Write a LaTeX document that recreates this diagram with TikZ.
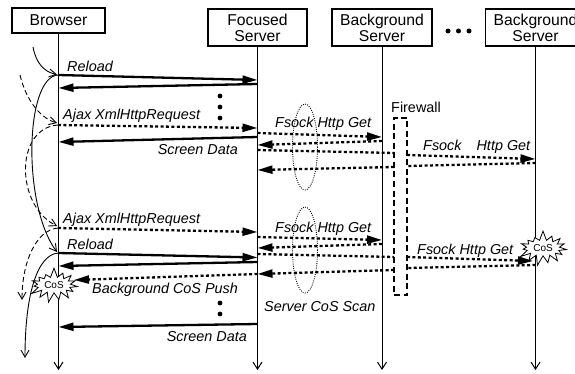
\documentclass[tikz,border=0pt]{standalone}
\usepackage{fontspec}
\setmainfont{Liberation Sans}
\usetikzlibrary{arrows.meta,shapes.symbols}

\newcommand\headfont{\fontsize{15.7}{16}\selectfont}
\newcommand\lblfont{\fontsize{14.4}{16}\selectfont\itshape}

\begin{document}
\begin{tikzpicture}[x=1pt,y=-1pt,
  head/.style={draw, line width=1.4pt, align=center, font=\headfont, inner sep=0pt},
  life/.style={line width=1pt, -{Straight Barb[length=7pt,width=9pt]}},
  msg/.style={line width=2.3pt, -{Triangle[length=15pt,width=8pt]}},
  dotline/.style={line width=2.3pt, dash pattern=on 3pt off 2.4pt},
  dmsg/.style={msg, dotline},
  lbl/.style={font=\lblfont, inner sep=0pt, anchor=base west},
  lble/.style={lbl, anchor=base east},
  flow/.style={line width=0.9pt, -{Straight Barb[length=7pt,width=8pt]}},
  dflow/.style={flow, dash pattern=on 5pt off 3pt},
  scan/.style={line width=0.9pt, dash pattern=on 0.9pt off 1.3pt},
  wall/.style={draw, line width=1.5pt, dash pattern=on 6pt off 3.5pt, inner sep=0pt},
  burst/.style={starburst, draw, fill=white, line width=0.8pt, starburst points=15,
    starburst point height=10pt, random starburst=7, inner sep=2pt,
    minimum width=42pt, minimum height=28pt,
    font=\fontsize{10}{10}\selectfont},
]
\clip (0,0) rectangle (575,374);

% participants
\node[head, minimum width=93, minimum height=25] (br) at (58.5,20.5) {Browser};
\node[head, minimum width=99, minimum height=37] (fs) at (257.5,27.5) {Focused\\Server};
\node[head, minimum width=100, minimum height=37] (bg1) at (382,27.5) {Background\\Server};
\node[head, minimum width=100, minimum height=37] (bg2) at (535.5,27.5) {Background\\Server};
\fill (448,31) circle (2.5) (458.5,31) circle (2.5) (469,31) circle (2.5);

% lifeline ends
\coordinate (brE) at (58.5,370);
\coordinate (fsE) at (257.5,370);
\coordinate (bg1E) at (382,370);
\coordinate (bg2E) at (535.5,370);
\draw[life] (br.south) -- (brE);
\draw[life] (fs.south) -- (fsE);
\draw[life] (bg1.south) -- (bg1E);
\draw[life] (bg2.south) -- (bg2E);

% firewall and scan regions
\node[wall, minimum width=13, minimum height=177] (fw) at (400.5,206.5) {};
\node[anchor=base west, inner sep=0pt, font=\fontsize{14.4}{16}\selectfont] (fwl) at (391,113) {Firewall};
\draw[scan] (305,147) ellipse [x radius=12.5, y radius=43];
\draw[scan] (305,250) ellipse [x radius=12.5, y radius=43];

% content-of-service bursts
\node[burst] (cos1) at (54,285) {CoS};
\node[burst] (cos2) at (543,248) {CoS};

% message end points
\path
  (58,75) coordinate (a1)   (257.5,80) coordinate (a2)
  (257.5,84) coordinate (a3) (58.5,88) coordinate (a4)
  (58,125) coordinate (b1)  (257.5,128) coordinate (b2)
  (257.5,137) coordinate (b3) (58.5,142) coordinate (b4)
  (257.5,133) coordinate (c1) (382,137) coordinate (c2)
  (382,141) coordinate (c3) (257.5,145) coordinate (c4)
  (257.5,150) coordinate (d1) (394,153) coordinate (d2)
  (407,155) coordinate (d3) (535.5,159) coordinate (d4)
  (535.5,163) coordinate (e1) (407,166) coordinate (e2)
  (394,167) coordinate (e3) (257.5,170) coordinate (e4)
  (58,228) coordinate (f1) (257.5,232) coordinate (f2)
  (257.5,237) coordinate (g1) (382,240) coordinate (g2)
  (382,244) coordinate (g3) (257.5,248) coordinate (g4)
  (58,253) coordinate (h1) (257.5,257.5) coordinate (h2)
  (257.5,262) coordinate (h3) (58.5,266) coordinate (h4)
  (257.5,254) coordinate (k1) (394,257) coordinate (k2)
  (407,257) coordinate (k3) (533,261) coordinate (k4)
  (535.5,265) coordinate (l1) (407,268) coordinate (l2)
  (394,270) coordinate (l3) (257.5,274) coordinate (l4)
  (74,280) coordinate (p1)
  (257.5,324) coordinate (q1) (58.5,327) coordinate (q2);

% first exchange
\draw[msg] (a1) -- (a2);
\draw[msg] (a3) -- (a4);
\node[lbl] (t1) at (67,72) {Reload};
\fill (220,96) circle (2.4) (220,107) circle (2.4) (220,118) circle (2.4);
\draw[dmsg] (b1) -- (b2);
\node[lbl] (t2) at (63,120) {Ajax XmlHttpRequest};
\draw[dmsg] (c1) -- (c2);
\draw[dmsg] (c3) -- (c4);
\node[lbl] (t3) at (275,128) {Fsock Http Get};
\draw[dotline] (d1) -- (d2);
\draw[dmsg] (d3) -- (d4);
\node[lbl] (t4) at (423,150.5) {Fsock\hspace{15pt}Http Get};
\draw[dotline] (e1) -- (e2);
\draw[dmsg] (e3) -- (e4);
\draw[msg] (b3) -- (b4);
\node[lble] (t5) at (238,155) {Screen Data};

% second exchange
\draw[dmsg] (f1) -- (f2);
\node[lbl] (t6) at (63,223) {Ajax XmlHttpRequest};
\draw[dmsg] (g1) -- (g2);
\draw[dmsg] (g3) -- (g4);
\node[lbl] (t7) at (275,232) {Fsock Http Get};
\draw[msg] (h1) -- (h2);
\draw[msg] (h3) -- (h4);
\node[lbl] (t8) at (67,249) {Reload};
\draw[dotline] (k1) -- (k2);
\draw[dmsg] (k3) -- (k4);
\node[lbl] (t9) at (417,254) {Fsock Http Get};
\draw[dotline] (l1) -- (l2);
\draw[dmsg] (l3) -- (l4);
\draw[dmsg] (l4) -- (p1);
\node[lbl] (t10) at (92,293) {Background CoS Push};
\node[lbl] (t11) at (264,311) {Server CoS Scan};
\fill (220,303) circle (2.4) (220,314) circle (2.4);
\draw[msg] (q1) -- (q2);
\node[lble] (t12) at (247,341) {Screen Data};

% page life cycle on the browser side
\coordinate (s0) at (33,47);
\coordinate (s1) at (57,74.5);
\coordinate (s2) at (57,252);
\coordinate (s3) at (25,358);
\coordinate (u0) at (20,75);
\coordinate (u1) at (57,123);
\coordinate (u2) at (57,226);
\coordinate (u3) at (22,300);
\draw[flow] (s0) .. controls (36,63) and (44,72) .. (s1);
\draw[flow] (a1) .. controls (25,77) and (22,205) .. (s2);
\draw[flow] (h1) .. controls (37,255) and (25,295) .. (s3);
\draw[dflow] (u0) .. controls (26,100) and (40,118) .. (u1);
\draw[dflow] (b1) .. controls (15,128) and (15,205) .. (u2);
\draw[dflow] (f1) .. controls (36,230) and (22,262) .. (u3);
\end{tikzpicture}
\end{document}
